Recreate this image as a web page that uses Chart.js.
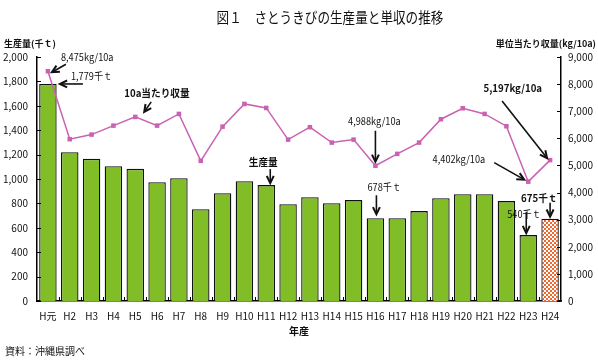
<!DOCTYPE html>
<html>
<head>
<meta charset="utf-8">
<script src="https://cdn.jsdelivr.net/npm/chart.js@4.4.1/dist/chart.umd.min.js"></script>
<style>
  html, body { margin: 0; padding: 0; background: #fff; }
  #wrap { position: relative; width: 598px; height: 361px; }
</style>
</head>
<body>
<div id="wrap"><canvas id="sugarChart" width="598" height="361"></canvas></div>
<script>
// さとうきびの生産量と単収 (H元〜H24)
const years = ['H元', 'H2', 'H3', 'H4', 'H5', 'H6', 'H7', 'H8', 'H9', 'H10', 'H11', 'H12',
    'H13', 'H14', 'H15', 'H16', 'H17', 'H18', 'H19', 'H20', 'H21', 'H22', 'H23', 'H24'];
// 生産量 (千t)
const production = [1779, 1220, 1165, 1105, 1083, 974, 1007, 753, 884, 982, 950, 794,
    851, 802, 827, 678, 678, 737, 843, 876, 876, 819, 540, 675];
// 10a当たり収量 (kg/10a)
const yieldPer10a = [8475, 5968, 6138, 6469, 6790, 6469, 6900, 5169, 6432, 7269, 7121, 5953,
    6410, 5843, 5953, 4988, 5427, 5843, 6705, 7110, 6900, 6447, 4402, 5197];
const leftMax = 2000, leftStep = 200;
const rightMax = 9000, rightStep = 1000;

const FONT = "'Noto Sans CJK JP', 'Noto Sans', sans-serif";
const GREEN = '#80bd27';
const PINK = '#c962b2';

// callouts: which mark, label text, and offsets from that mark (px)
const callouts = [
    { ds: 1, i: 0, text: '8,475kg/10a', bold: false, tx: 13, ty: -14, align: 'left', a0: [18, -7], a1: [4, 1] },
    { ds: 0, i: 0, text: '1,779千ｔ', bold: false, tx: 23, ty: -8, align: 'left', a0: [35, 0], a1: [12, 0] },
    { ds: 1, i: 4, text: '10a当たり収量', bold: true, tx: -11, ty: -24, align: 'left', a0: [16, -15], a1: [9, -5] },
    { ds: 0, i: 10, text: '生産量', bold: true, tx: -3, ty: -23, align: 'center', a0: [4, -16], a1: [4, -2] },
    { ds: 1, i: 15, text: '4,988kg/10a', bold: false, tx: -1, ty: -45, align: 'center', a0: [0, -35], a1: [0, -4] },
    { ds: 0, i: 15, text: '678千ｔ', bold: false, tx: -8, ty: -31, align: 'left', a0: [1, -23], a1: [1, -4] },
    { ds: 1, i: 22, text: '4,402kg/10a', bold: false, tx: -43, ty: -22, align: 'right', a0: [-34, -19], a1: [-4, -2] },
    { ds: 1, i: 23, text: '5,197kg/10a', bold: true, tx: -8, ty: -72, align: 'right', a0: [-48, -59], a1: [-3, -2] },
    { ds: 0, i: 22, text: '540千ｔ', bold: false, tx: -21, ty: -21, align: 'left', a0: [-2, -23], a1: [-2, -2] },
    { ds: 0, i: 23, text: '675千ｔ', bold: true, tx: -29, ty: -21, align: 'left', a0: [0, -16], a1: [0, -2] }
];

function makeChecker() {
    const c = document.createElement('canvas');
    c.width = 4; c.height = 4;
    const g = c.getContext('2d');
    g.fillStyle = '#ffffff';
    g.fillRect(0, 0, 4, 4);
    g.fillStyle = '#ef6a30';
    g.fillRect(0, 0, 2, 2);
    g.fillRect(2, 2, 2, 2);
    return g.createPattern(c, 'repeat');
}

function drawArrow(ctx, x0, y0, x1, y1) {
    const ang = Math.atan2(y1 - y0, x1 - x0);
    const len = 8, spread = 0.45;
    ctx.save();
    ctx.strokeStyle = '#111';
    ctx.lineWidth = 1.6;
    ctx.beginPath();
    ctx.moveTo(x0, y0);
    ctx.lineTo(x1 - Math.cos(ang) * 2, y1 - Math.sin(ang) * 2);
    ctx.stroke();
    ctx.lineWidth = 2;
    ctx.beginPath();
    ctx.moveTo(x1 - len * Math.cos(ang - spread), y1 - len * Math.sin(ang - spread));
    ctx.lineTo(x1, y1);
    ctx.lineTo(x1 - len * Math.cos(ang + spread), y1 - len * Math.sin(ang + spread));
    ctx.stroke();
    ctx.restore();
}

// condensed text, like the narrow gothic face in the original
function narrowText(ctx, text, x, y, squeeze) {
    ctx.save();
    ctx.translate(x, y);
    ctx.scale(squeeze, 1);
    ctx.fillText(text, 0, 0);
    ctx.restore();
}

const decorations = {
    id: 'decorations',
    afterDraw(chart) {
        const ctx = chart.ctx;
        const area = chart.chartArea;
        const yL = chart.scales.y, yR = chart.scales.y1, xs = chart.scales.x;
        ctx.save();
        // inward tick marks
        ctx.strokeStyle = '#000';
        ctx.lineWidth = 1;
        for (let v = 0; v <= leftMax; v += leftStep) {
            const py = Math.round(yL.getPixelForValue(v)) + 0.5;
            ctx.beginPath(); ctx.moveTo(area.left, py); ctx.lineTo(area.left + 4, py); ctx.stroke();
        }
        for (let v = 0; v <= rightMax; v += rightStep) {
            const py = Math.round(yR.getPixelForValue(v)) + 0.5;
            ctx.beginPath(); ctx.moveTo(area.right, py); ctx.lineTo(area.right - 4, py); ctx.stroke();
        }
        for (let i = 1; i < years.length; i++) {
            const px = Math.round((xs.getPixelForValue(i - 1) + xs.getPixelForValue(i)) / 2) + 0.5;
            ctx.beginPath(); ctx.moveTo(px, area.bottom); ctx.lineTo(px, area.bottom - 4); ctx.stroke();
        }

        // titles
        ctx.fillStyle = '#111';
        ctx.textBaseline = 'middle';
        ctx.textAlign = 'center';
        ctx.font = '15px ' + FONT;
        narrowText(ctx, '図１　さとうきびの生産量と単収の推移', 330, 17, 0.84);
        ctx.font = 'bold 9px ' + FONT;
        ctx.textAlign = 'left';
        ctx.fillText('生産量(千ｔ)', 4, 44);
        ctx.textAlign = 'right';
        ctx.fillText('単位当たり収量(kg/10a)', 596, 44);
        ctx.textAlign = 'center';
        ctx.font = 'bold 10px ' + FONT;
        ctx.fillText('年産', (area.left + area.right) / 2, 331);
        ctx.textAlign = 'left';
        ctx.font = '10px ' + FONT;
        ctx.fillText('資料：沖縄県調べ', 5, 351);

        // callouts
        callouts.forEach(c => {
            const el = chart.getDatasetMeta(c.ds).data[c.i];
            const mx = el.x, my = el.y;
            ctx.font = (c.bold ? 'bold 10.5px ' : '10px ') + FONT;
            ctx.textAlign = c.align;
            ctx.fillStyle = '#111';
            narrowText(ctx, c.text, mx + c.tx, my + c.ty, 0.92);
            drawArrow(ctx, mx + c.a0[0], my + c.a0[1], mx + c.a1[0], my + c.a1[1]);
        });
        ctx.restore();
    }
};

const barColors = production.map((v, i) => i === production.length - 1 ? makeChecker() : GREEN);

new Chart(document.getElementById('sugarChart'), {
    type: 'bar',
    data: {
        labels: years,
        datasets: [
            {
                type: 'bar',
                label: '生産量',
                data: production,
                yAxisID: 'y',
                backgroundColor: barColors,
                borderColor: '#111',
                borderWidth: 1.3,
                barPercentage: 0.8,
                categoryPercentage: 1.0,
                order: 2
            },
            {
                type: 'line',
                label: '10a当たり収量',
                data: yieldPer10a,
                yAxisID: 'y1',
                borderColor: PINK,
                backgroundColor: PINK,
                borderWidth: 1.5,
                pointStyle: 'rect',
                pointRadius: 3.2,
                pointBorderWidth: 0,
                tension: 0,
                order: 1
            }
        ]
    },
    options: {
        responsive: false,
        animation: false,
        layout: { padding: { top: 57, left: 0, right: 0, bottom: 0 } },
        plugins: {
            legend: { display: false },
            tooltip: { enabled: false }
        },
        scales: {
            x: {
                grid: { display: false, drawTicks: false },
                border: { color: '#000', width: 1.5 },
                ticks: { color: '#111', font: { family: FONT, size: 10 }, padding: 9, maxRotation: 0, autoSkip: false },
                afterFit: s => { s.height = 60; }
            },
            y: {
                position: 'left',
                min: 0,
                max: leftMax,
                grid: { display: false, drawTicks: false },
                border: { color: '#000', width: 1.5 },
                ticks: {
                    stepSize: leftStep,
                    color: '#111',
                    padding: 9,
                    font: { family: FONT, size: 10 },
                    callback: v => v.toLocaleString('en-US')
                },
                afterFit: s => { s.width = 37; }
            },
            y1: {
                position: 'right',
                min: 0,
                max: rightMax,
                grid: { display: false, drawTicks: false },
                border: { color: '#000', width: 1.5 },
                ticks: {
                    stepSize: rightStep,
                    color: '#111',
                    padding: 7,
                    font: { family: FONT, size: 10 },
                    callback: v => v.toLocaleString('en-US')
                },
                afterFit: s => { s.width = 37; }
            }
        }
    },
    plugins: [decorations]
});
</script>
</body>
</html>
